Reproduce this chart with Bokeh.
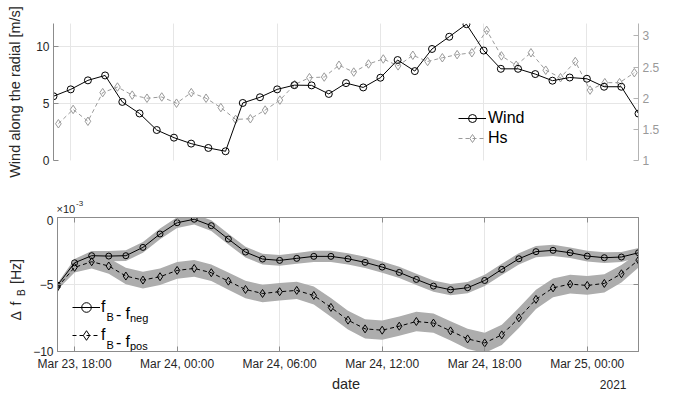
import numpy as np
import pandas as pd
from bokeh.plotting import figure
from bokeh.layouts import column, row
from bokeh.models import (Range1d, LinearAxis, DatetimeAxis, FixedTicker, DatetimeTickFormatter,
                          Legend, LegendItem, Label, Grid, NumeralTickFormatter)
from bokeh.embed import file_html
from bokeh.resources import INLINE

# ---------------- data ----------------
wind_start = "2021-03-23 17:00"          # hourly samples
wind = [5.63, 6.23, 7.02, 7.45, 5.13, 4.12, 2.67, 2.00, 1.48, 1.10,
        0.81, 5.04, 5.54, 6.23, 6.60, 6.58, 5.83, 6.78, 6.40, 7.25,
        8.80, 7.83, 9.77, 10.84, 11.94, 9.63, 8.03, 8.03, 7.57, 6.99,
        7.27, 7.16, 6.46, 6.46, 4.11]

hs_start = "2021-03-23 17:17"            # buoy samples every ~51.5 min
hs_step = "3090s"
hs = [1.59, 1.82, 1.63, 2.09, 2.18, 2.05, 2.00, 2.02, 1.92, 2.09,
      2.00, 1.85, 1.66, 1.67, 1.81, 1.97, 2.22, 2.33, 2.34, 2.53,
      2.42, 2.55, 2.63, 2.52, 2.69, 2.59, 2.65, 2.70, 2.73, 3.09,
      2.68, 2.53, 2.73, 2.45, 2.33, 2.59, 2.13, 2.25, 2.25, 2.41]

# Delta f_B in units of 1e-3 Hz, hourly
df_neg = [-5.05, -3.38, -2.85, -2.88, -2.85, -2.23, -1.23, -0.39, -0.13, -0.61,
          -1.61, -2.58, -3.10, -3.20, -3.05, -2.90, -2.90, -3.08, -3.35, -3.70,
          -4.10, -4.62, -5.12, -5.39, -5.24, -4.70, -3.87, -3.08, -2.55, -2.45,
          -2.63, -2.88, -3.00, -2.95, -2.63]
df_neg_err = [0.15, 0.28, 0.35, 0.38, 0.40, 0.40, 0.40, 0.40, 0.40, 0.40,
              0.40, 0.40, 0.40, 0.40, 0.40, 0.42, 0.42, 0.42, 0.42, 0.42,
              0.42, 0.42, 0.42, 0.42, 0.42, 0.42, 0.42, 0.42, 0.42, 0.42,
              0.40, 0.40, 0.40, 0.38, 0.35]
df_pos = [-5.20, -3.72, -3.30, -3.62, -4.37, -4.67, -4.42, -3.95, -3.80, -4.12,
          -4.75, -5.37, -5.67, -5.54, -5.44, -5.82, -6.71, -7.66, -8.31, -8.41,
          -8.11, -7.76, -7.88, -8.46, -9.06, -9.36, -8.76, -7.49, -6.11, -5.25,
          -4.97, -5.07, -4.92, -4.20, -3.18]
df_pos_err = [0.20, 0.38, 0.50, 0.58, 0.62, 0.62, 0.62, 0.62, 0.62, 0.62,
              0.65, 0.65, 0.65, 0.65, 0.65, 0.68, 0.70, 0.70, 0.72, 0.72,
              0.72, 0.72, 0.72, 0.72, 0.75, 0.75, 0.75, 0.75, 0.72, 0.70,
              0.70, 0.70, 0.68, 0.65, 0.55]

x_start = "2021-03-23 17:00"
x_end = "2021-03-25 03:00"
tick_times = ["2021-03-23 18:00", "2021-03-24 00:00", "2021-03-24 06:00",
              "2021-03-24 12:00", "2021-03-24 18:00", "2021-03-25 00:00"]
wind_ticks = [0, 5, 10]
hs_ticks = [1, 1.5, 2, 2.5, 3]
df_ticks = [-10, -5, 0]

# ---------------- helpers ----------------
FONT = "Liberation Sans"
TXT = "#262626"
AX = "#8c8c8c"
GRID = "#e6e6e6"

t_wind = pd.date_range(wind_start, periods=len(wind), freq="h")
t_hs = pd.date_range(hs_start, periods=len(hs), freq=hs_step)
t_df = pd.date_range(wind_start, periods=len(df_neg), freq="h")
tick_ms = [pd.Timestamp(t).value / 1e6 for t in tick_times]
xr = (pd.Timestamp(x_start), pd.Timestamp(x_end))

W = 675
FL, FR = 53, 37          # frame spans x = 53 .. 638


def style_axis(ax, color=AX, label_color=TXT):
    ax.axis_line_color = color
    ax.major_tick_line_color = color
    ax.major_tick_in = 5
    ax.major_tick_out = 0
    ax.minor_tick_line_color = None
    ax.major_label_text_font = FONT
    ax.major_label_text_font_size = "12px"
    ax.major_label_text_color = label_color
    ax.major_label_standoff = 4
    ax.axis_label_text_font = FONT
    ax.axis_label_text_font_size = "14.5px"
    ax.axis_label_text_font_style = "normal"
    ax.axis_label_text_color = TXT


def lab(p, x, y, text, size, **kw):
    kw.setdefault("text_baseline", "alphabetic")
    kw.setdefault("text_color", "black")
    p.add_layout(Label(x=x, y=y, x_units="screen", y_units="screen", text=text,
                       text_font=FONT, text_font_size=size, **kw))


def blank(w, h):
    f = figure(width=w, height=h, x_range=Range1d(0, w), y_range=Range1d(0, h),
               x_axis_location=None, y_axis_location=None, frame_align=False,
               output_backend="svg", toolbar_location=None)
    f.min_border = 0
    f.outline_line_color = None
    f.grid.visible = False
    return f


# ---------------- top panel ----------------
H1 = 190
p1 = figure(width=W, height=H1, x_range=Range1d(*xr), y_range=Range1d(0, 12),
            x_axis_location=None, frame_align=False,
            output_backend="svg", toolbar_location=None)
p1.min_border_left = FL
p1.min_border_right = FR
p1.min_border_top = 23
p1.min_border_bottom = 30
p1.outline_line_color = None

p1.yaxis.ticker = FixedTicker(ticks=wind_ticks)
p1.yaxis.axis_label = "Wind along the radial [m/s]"
style_axis(p1.yaxis[0])
p1.yaxis.axis_label_standoff = 10
p1.ygrid.ticker = FixedTicker(ticks=wind_ticks)
p1.ygrid.grid_line_color = GRID
p1.add_layout(Grid(dimension=0, ticker=FixedTicker(ticks=tick_ms), grid_line_color=GRID))

p1.extra_y_ranges = {"hs": Range1d(1, 3.2)}
ax_hs = LinearAxis(y_range_name="hs", ticker=FixedTicker(ticks=hs_ticks),
                   formatter=NumeralTickFormatter(format="0.[0]"))
style_axis(ax_hs, color="#b3b3b3", label_color="#999999")
p1.add_layout(ax_hs, "right")

l_hs = p1.line(t_hs, hs, y_range_name="hs", line_color="#9a9a9a", line_width=1,
               line_dash="4 3")
s_hs = p1.scatter(t_hs, hs, y_range_name="hs", marker="diamond", size=8.5,
                  line_color="#9a9a9a", fill_color=None, line_width=1)
l_w = p1.line(t_wind, wind, line_color="black", line_width=1)
s_w = p1.scatter(t_wind, wind, marker="circle", size=7, line_color="black",
                 fill_color=None, line_width=1)

leg1 = Legend(items=[LegendItem(label="Wind", renderers=[l_w, s_w]),
                     LegendItem(label="Hs", renderers=[l_hs, s_hs])],
              location=(405, 12))
leg1.label_text_font = FONT
leg1.label_text_font_size = "16px"
leg1.label_text_color = "black"
leg1.background_fill_alpha = 0
leg1.border_line_alpha = 0
leg1.padding = 0
leg1.margin = 0
leg1.spacing = 0
leg1.glyph_width = 28
leg1.glyph_height = 20
leg1.label_height = 20
leg1.label_standoff = 2
p1.add_layout(leg1)

lab(p1, 613, 68.5, "Hs [m]", "14.5px", angle=np.pi / 2, text_align="center",
    text_baseline="middle", text_color="#8c8c8c")

# ---------------- strip with the exponent ----------------
HM = 25
mid = blank(W, HM)
lab(mid, 56, 7, "\u00d710", "11px", text_baseline="middle", text_color=TXT)
lab(mid, 75.5, 12, "-3", "8px", text_baseline="middle", text_color=TXT)

# ---------------- bottom panel ----------------
LW = 30
H2 = 158
p2 = figure(width=W - LW, height=H2, x_range=Range1d(*xr), y_range=Range1d(-10, 0),
            x_axis_type="datetime", frame_align=False,
            output_backend="svg", toolbar_location=None)
p2.min_border_left = FL - LW
p2.min_border_right = FR
p2.min_border_top = 2
p2.min_border_bottom = 20
p2.outline_line_color = AX

fmt = "%b %d, %H:%M"
p2.xaxis.ticker = FixedTicker(ticks=tick_ms)
p2.xaxis.formatter = DatetimeTickFormatter(hours=fmt, hourmin=fmt, days=fmt, minutes=fmt,
                                           minsec=fmt, months=fmt)
style_axis(p2.xaxis[0])
p2.xaxis.major_label_standoff = 5
p2.xgrid.ticker = FixedTicker(ticks=tick_ms)
p2.xgrid.grid_line_color = GRID

p2.yaxis.ticker = FixedTicker(ticks=df_ticks)
style_axis(p2.yaxis[0])
p2.ygrid.ticker = FixedTicker(ticks=df_ticks)
p2.ygrid.grid_line_color = GRID

ax_r = LinearAxis(ticker=FixedTicker(ticks=df_ticks))
style_axis(ax_r)
ax_r.major_label_text_color = None
ax_r.major_label_text_font_size = "0px"
ax_r.major_label_standoff = 0
p2.add_layout(ax_r, "right")
ax_t = DatetimeAxis(ticker=FixedTicker(ticks=tick_ms))
style_axis(ax_t)
ax_t.major_label_text_color = None
ax_t.major_label_text_font_size = "0px"
ax_t.major_label_standoff = 0
p2.add_layout(ax_t, "above")

BAND = "#adadad"
neg_lo = [v - e for v, e in zip(df_neg, df_neg_err)]
neg_hi = [v + e for v, e in zip(df_neg, df_neg_err)]
pos_lo = [v - e for v, e in zip(df_pos, df_pos_err)]
pos_hi = [v + e for v, e in zip(df_pos, df_pos_err)]
p2.varea(x=t_df, y1=pos_lo, y2=pos_hi, fill_color=BAND)
p2.varea(x=t_df, y1=neg_lo, y2=neg_hi, fill_color=BAND)

l_p = p2.line(t_df, df_pos, line_color="black", line_width=1, line_dash="4 3")
s_p = p2.scatter(t_df, df_pos, marker="diamond", size=8, line_color="black",
                 fill_color=None, line_width=1)
l_n = p2.line(t_df, df_neg, line_color="black", line_width=1)
s_n = p2.scatter(t_df, df_neg, marker="circle", size=6, line_color="black",
                 fill_color=None, line_width=1)

leg2 = Legend(items=[LegendItem(label="f", renderers=[l_n, s_n]),
                     LegendItem(label="f", renderers=[l_p, s_p])],
              location=(15, 4))
leg2.label_text_font = FONT
leg2.label_text_font_size = "16px"
leg2.label_text_color = "black"
leg2.background_fill_alpha = 0
leg2.border_line_alpha = 0
leg2.padding = 0
leg2.margin = 0
leg2.spacing = 4
leg2.glyph_width = 28
leg2.glyph_height = 24
leg2.label_height = 24
leg2.label_standoff = 1
p2.add_layout(leg2)

# legend subscripts (frame-relative screen coords, y up from frame bottom)
for dy, sub in ((0, "neg"), (-28, "pos")):
    lab(p2, 49, 34.5 + dy, "B", "11px")
    lab(p2, 58.5, 38 + dy, "-", "16px")
    lab(p2, 68, 38 + dy, "f", "16px")
    lab(p2, 72.5, 33.5 + dy, sub, "11px")

# left strip with the y label  (Δ f_B [Hz])
lf = blank(LW, H2)
ang = np.pi / 2
lab(lf, 15.6, 53, "\u0394", "14px", angle=ang, text_baseline="middle", text_color=TXT)
lab(lf, 15.6, 68, "f", "14px", angle=ang, text_baseline="middle", text_color=TXT)
lab(lf, 21, 77.5, "B", "10px", angle=ang, text_baseline="middle", text_color=TXT)
lab(lf, 15.6, 89.5, "[Hz]", "14px", angle=ang, text_baseline="middle", text_color=TXT)

# bottom strip with x label and year
HB = 20
bot = blank(W, HB)
lab(bot, 345.5, 10, "date", "14.5px", text_align="center", text_baseline="middle",
    text_color=TXT)
lab(bot, 626, 9.2, "2021", "12px", text_align="right", text_baseline="middle",
    text_color=TXT)

layout = column(p1, mid, row(lf, p2), bot)
open("out.html", "w").write(file_html(layout, INLINE))
